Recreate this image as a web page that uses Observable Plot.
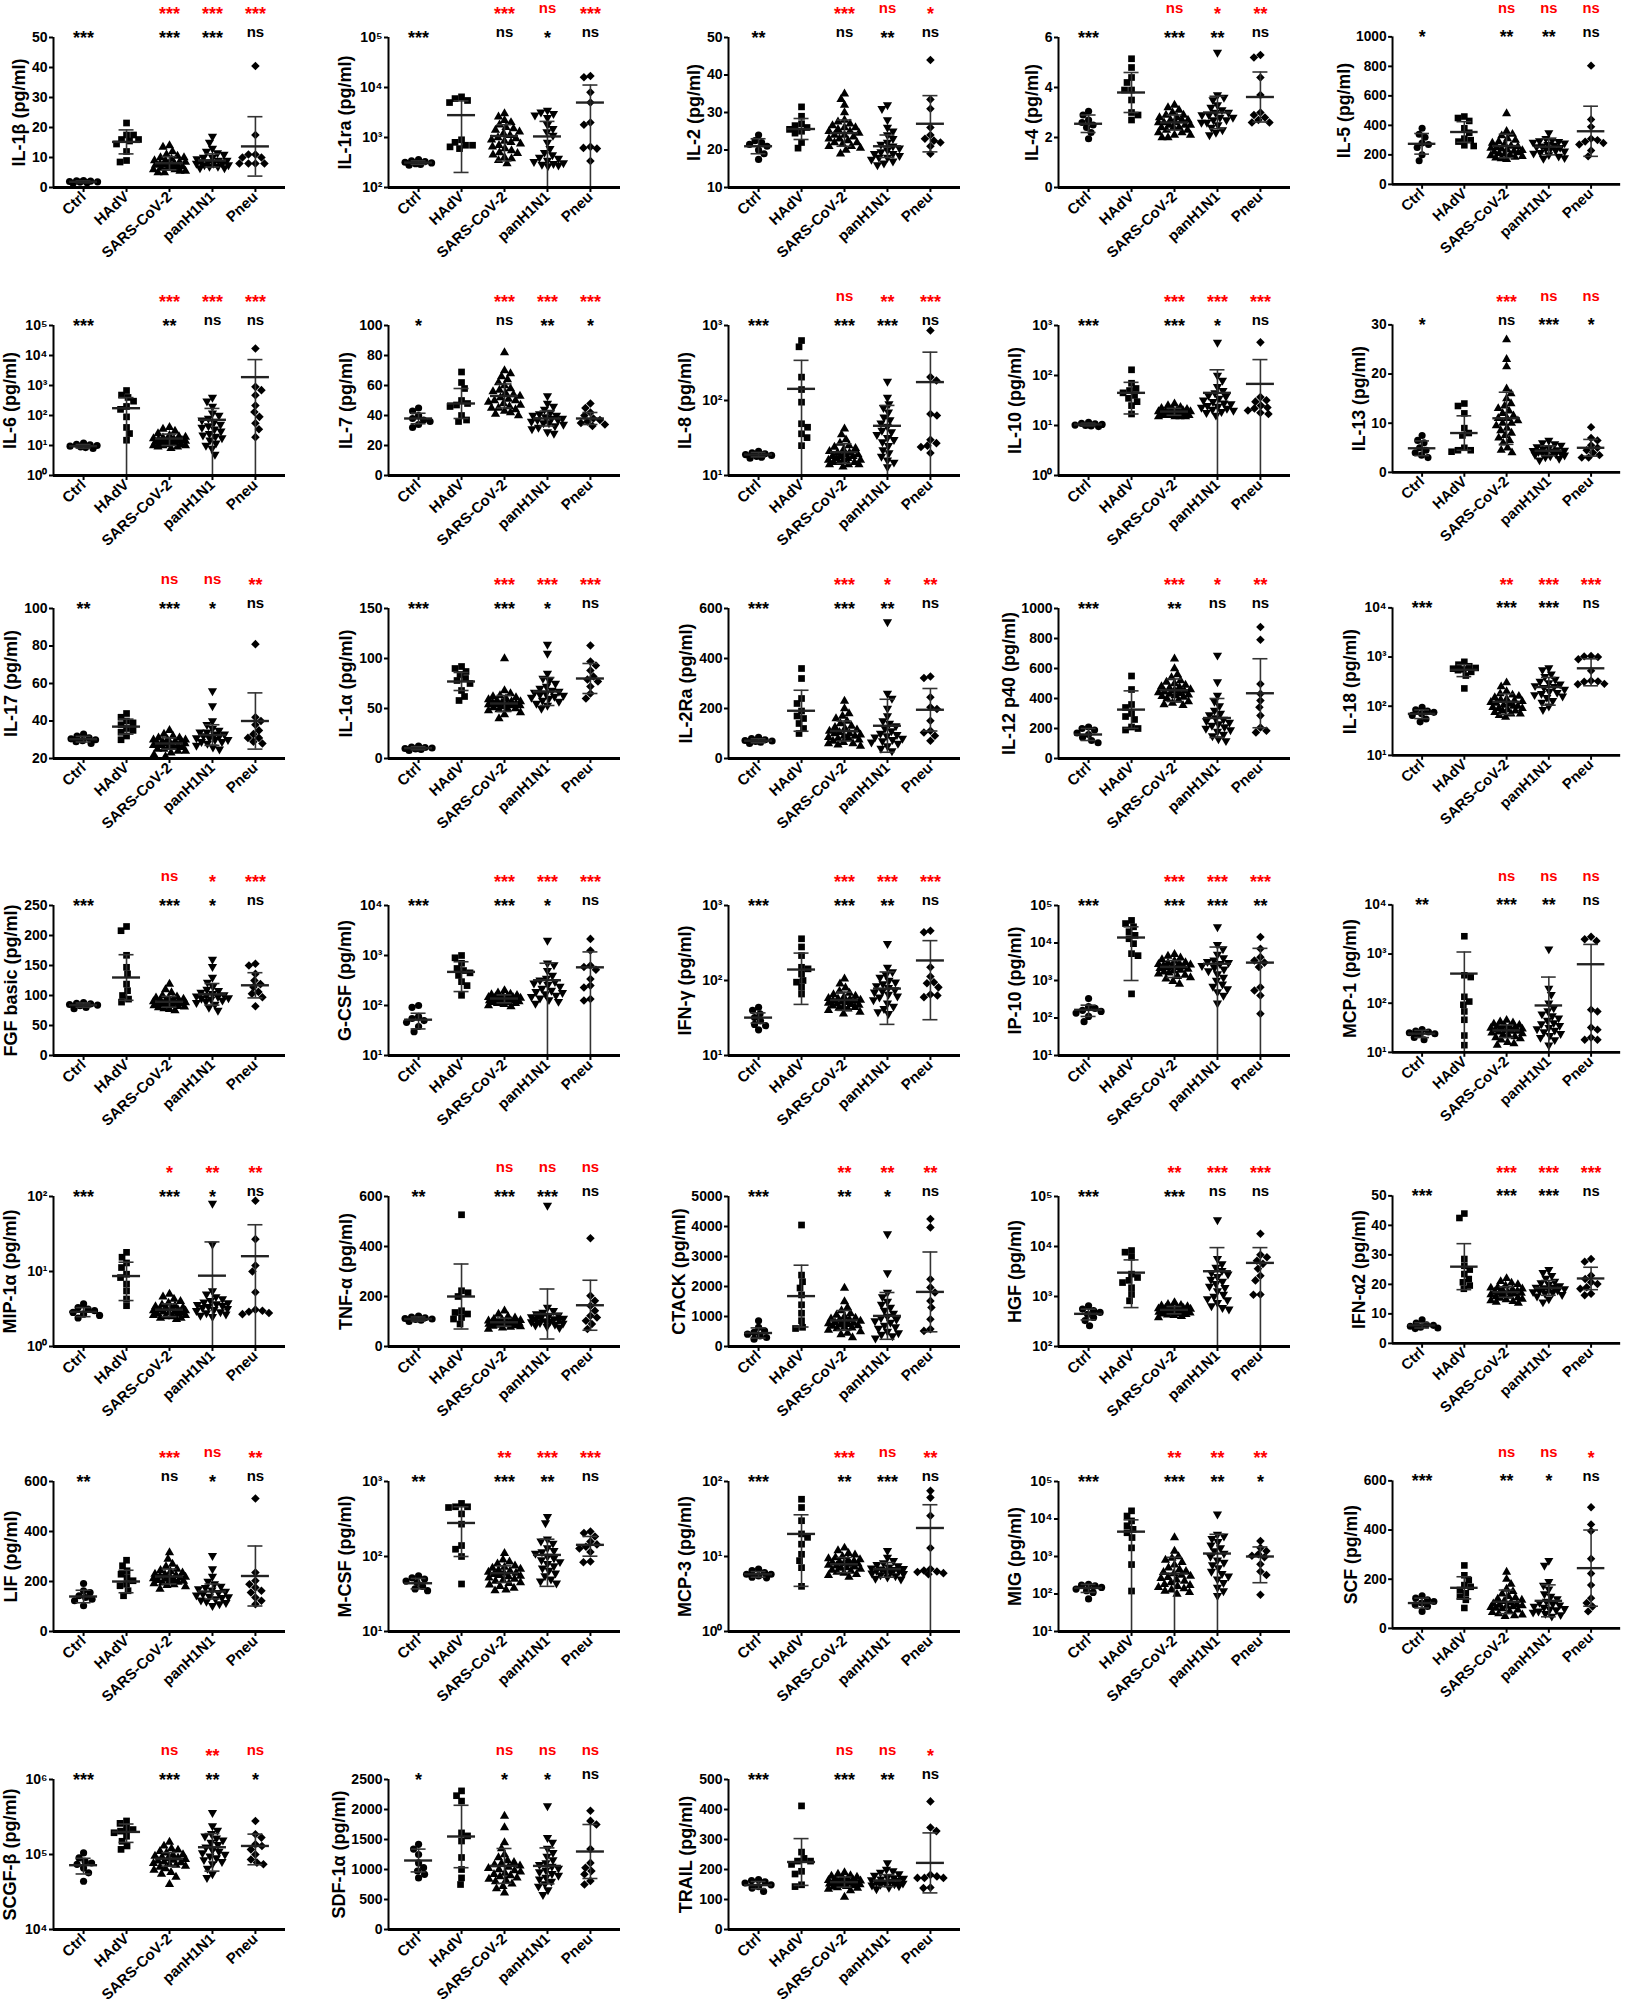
<!DOCTYPE html>
<html><head><meta charset="utf-8">
<script src="https://cdn.jsdelivr.net/npm/d3@7"></script>
<script src="https://cdn.jsdelivr.net/npm/@observablehq/plot@0.6"></script>
<style>
body{margin:0;background:#fff;}
#wrap{position:relative;width:1630px;height:2007px;overflow:hidden;background:#fff;}
.panel{position:absolute;}
</style>
</head><body><div id="wrap"></div>
<script>
const groups = ["Ctrl","HAdV","SARS-CoV-2","panH1N1","Pneu"];
const cytokines = ["IL-1β","IL-1ra","IL-2","IL-4","IL-5","IL-6","IL-7","IL-8","IL-10","IL-13","IL-17","IL-1α","IL-2Ra","IL-12 p40","IL-18","FGF basic","G-CSF","IFN-γ","IP-10","MCP-1","MIP-1α","TNF-α","CTACK","HGF","IFN-α2","LIF","M-CSF","MCP-3","MIG","SCF","SCGF-β","SDF-1α","TRAIL"];
const logPanels = [1,5,7,8,14,16,17,18,19,20,23,26,27,28,30];
const yTicks = [
[0,10,20,30,40,50],[100,1000,10000,100000],[10,20,30,40,50],[0,2,4,6],[0,200,400,600,800,1000],
[1,10,100,1000,10000,100000],[0,20,40,60,80,100],[10,100,1000],[1,10,100,1000],[0,10,20,30],
[20,40,60,80,100],[0,50,100,150],[0,200,400,600],[0,200,400,600,800,1000],[10,100,1000,10000],
[0,50,100,150,200,250],[10,100,1000,10000],[10,100,1000],[10,100,1000,10000,100000],[10,100,1000,10000],
[1,10,100],[0,200,400,600],[0,1000,2000,3000,4000,5000],[100,1000,10000,100000],[0,10,20,30,40,50],
[0,200,400,600],[10,100,1000],[1,10,100],[10,100,1000,10000,100000],[0,200,400,600],
[10000,100000,1000000],[0,500,1000,1500,2000,2500],[0,100,200,300,400,500]
];
const ctrl = [
[1.8,2.0,2.2,1.6,1.9,2.1,1.4,2.3],[300,320,340,310,290,330,280,360],[24,22.5,22,21.5,21,20,19,17.5],[3.05,2.9,2.7,2.6,2.5,2.4,2.2,1.95],[380,340,320,280,270,250,200,160],
[12,11,10.5,10,9.5,9,8.5,8],[45,43,40,38,37,36,34,32],[21,20,19.5,19,18.5,18,17.5,17],[11.5,11,10.8,10.5,10.2,10,9.8,9.5],[7.5,6.5,6,5,4.5,4,3.5,3],
[33,32,31,30.5,30,29.5,29,28],[12.5,11.5,11,10.5,10,9.5,9,8],[85,80,75,72,70,68,65,60],[210,200,190,170,160,140,120,105],[95,85,80,75,70,65,55,48],
[88,87,86,85,84,83,80,78],[100,92,60,55,50,46,38,30],[44,40,36,32,29,26,25,22],[330,200,180,160,150,135,110,80],[29,27,26,25,24,23,20,18],
[3.7,3.3,3.15,3.0,2.85,2.7,2.6,2.4],[122,118,115,112,110,108,105,100],[857,635,523,468,412,356,300,245],[650,560,520,480,440,380,330,260],[8,6.9,6.3,6.1,5.8,5.5,5.2,5.0],
[192,163,156,143,136,129,123,103],[55,52,50,47,45,40,37,35],[6.8,6.5,6.1,5.8,5.8,5.5,5.3,5.2],[180,172,165,150,135,122,110,74],[133,123,116,109,103,96,89,69],
[105000,90000,81000,77000,74000,66000,57000,44000],[1420,1340,1250,1110,1030,975,920,860],[166,163,159,155,149,143,138,127]
];
const hadv = [
[21.5,17.5,17.5,16,15.5,16,14.5,12,8.5,9],[6500,6000,5500,5000,900,800,700,650,600,700],[31.5,29,27,26.5,26,25.5,25,24.5,22,20.5],[5.15,4.8,4.4,4.2,3.9,3.9,3.5,3.0,2.9,2.7],[460,450,430,380,350,310,300,290,265,260],
[680,480,400,300,200,160,90,40,25,15],[69,62,58,50,48,47,46,40,37,36],[630,520,205,140,95,49,44,36,32,25],[130,70,55,50,45,40,35,30,25,17],[14,13.5,12,9,8,7.5,5,4.5,4.5,4.2],
[44,42,40,39,38,36,35,34,32,30],[92,90,87,84,80,78,75,68,62,58],[360,320,240,220,190,170,160,140,120,100],[550,460,360,340,300,280,260,210,200,190],[800,700,650,600,580,560,540,500,420,230],
[215,208,167,147,136,119,108,100,94,89],[1000,900,700,550,500,450,400,300,250,160],[360,280,215,150,143,122,100,95,81,66],[40000,33000,27000,20000,16000,13000,9600,5200,4600,440],[2300,370,340,135,108,93,68,46,22,14],
[18,15.5,13,11.3,9.2,8.3,6.8,5.5,4.3,3.5],[527,223,215,200,143,136,130,116,110,90],[4050,2380,2160,1950,1720,1390,1110,860,640,600],[8300,7700,6100,2800,2400,2100,1900,1500,1100,820],[44,42.5,28.6,26.3,25,23.5,21.8,20.7,19.6,18.5],
[285,263,243,229,216,203,189,183,163,143],[510,460,450,370,270,140,125,100,43,460],[58,45,30,20,18,14.6,10.7,8.8,7.1,4],[16500,12000,8900,6600,5300,4300,3200,1700,610,120],[256,216,196,176,169,156,143,129,116,83],
[280000,260000,228000,215000,205000,195000,175000,150000,130000,117000],[2310,2230,2140,1610,1560,1475,1200,1000,860,750],[412,258,237,228,228,217,194,185,149,143]
];
const sars = [
[14,13.5,12,11,10.5,10,10,9.5,9,9,8.5,8.5,8,8,8,7.5,7.5,7,7,7,6.5,6.5,6,6,5.5,5.5,5,5],
[3000,2600,2200,2000,1800,1600,1500,1400,1300,1200,1100,1000,950,900,850,800,750,700,650,600,550,500,480,450,400,380,350,300],
[35,33.5,32,30,28,27.5,27,26.5,26,26,25.5,25,25,24.5,24,24,23.5,23,23,22.5,22,22,21.5,21,21,20.5,20,19],
[3.3,3.2,3.1,3.0,2.9,2.9,2.8,2.8,2.7,2.7,2.7,2.6,2.6,2.6,2.5,2.5,2.5,2.4,2.4,2.4,2.3,2.3,2.2,2.2,2.1,2.1,2.0,2.0],
[480,360,340,330,310,300,290,280,270,260,255,250,245,240,235,230,225,220,215,210,205,200,195,190,185,180,175,170],
[40,35,30,25,22,20,19,18,17,16,16,15,15,14,14,13,13,12,12,12,11,11,10,10,10,9,9,8],
[82,70,68,66,64,62,60,58,57,56,55,54,53,52,51,50,50,49,48,47,46,45,45,44,43,42,41,40],
[42,35,30,27,25,24,23,22,21,20,20,19,19,18,18,18,17,17,16,16,16,15,15,15,14,14,14,13],
[27,25,23,22,21,21,20,20,20,19,19,19,18,18,18,18,17,17,17,17,16,16,16,16,15,15,15,15],
[27,23,21.5,17,16,15,14,13.5,13,12.5,12,11.5,11,11,10.5,10,10,9.5,9,8.5,8,7.5,7,6.5,6,5,4.5,4],
[35,33,32,31,31,30,30,30,29,29,29,28,28,28,28,27,27,27,26,26,26,25,25,24,24,23,22,21],
[100,68,65,63,62,61,60,59,58,57,57,56,56,55,55,54,54,53,53,52,51,50,50,49,48,46,44,40],
[230,200,180,170,160,150,140,130,125,120,115,110,105,100,100,95,90,90,85,80,80,75,70,65,60,60,55,50],
[665,600,560,540,520,510,500,490,480,475,470,460,455,450,445,440,435,430,425,420,415,410,400,390,380,370,360,355],
[300,250,200,180,170,160,150,140,135,130,125,120,115,110,105,100,100,95,90,90,85,80,80,75,70,70,65,60],
[119,110,105,100,98,96,95,94,93,92,91,90,90,89,88,88,87,86,85,84,84,83,82,81,80,78,77,75],
[200,180,170,165,160,155,150,150,145,145,140,140,140,135,135,130,130,125,125,120,120,115,115,110,110,105,100,95],
[105,90,80,72,68,65,62,60,58,57,56,55,54,53,52,51,50,49,48,47,46,45,44,43,42,40,38,36],
[5000,4500,4000,3600,3300,3000,2900,2800,2700,2600,2500,2400,2300,2250,2200,2100,2000,1900,1800,1700,1600,1500,1400,1300,1200,1100,950,800],
[45,42,40,38,36,35,34,33,32,31,30,30,29,28,27,27,26,25,24,23,22,21,20,19,18,16,15,14],
[5,4.6,4.3,4,3.8,3.6,3.5,3.4,3.3,3.2,3.2,3.1,3.1,3,3,2.9,2.9,2.8,2.8,2.7,2.7,2.6,2.6,2.5,2.5,2.4,2.4,2.3],
[143,130,120,115,110,108,105,103,102,100,99,98,97,96,95,94,93,92,91,90,88,86,84,82,80,78,75,70],
[1950,1500,1300,1200,1100,1050,1000,950,920,900,880,850,820,800,780,760,740,720,700,680,650,620,600,550,500,450,400,300],
[760,700,670,650,630,610,600,590,580,570,560,550,545,540,530,520,510,500,490,480,470,460,450,440,430,420,400,380],
[22,21,20.5,20,19.5,19,18.8,18.5,18.3,18,17.8,17.5,17.3,17,17,16.8,16.5,16.3,16,15.8,15.5,15.3,15,14.8,14.5,14.2,14,13.6],
[316,290,270,260,250,245,240,235,230,228,225,222,220,218,215,212,210,208,205,202,200,198,195,192,188,185,180,170],
[110,90,85,80,75,72,70,68,66,64,62,60,60,58,56,55,54,52,50,48,47,45,44,42,40,38,36,35],
[13,12,11,10.5,10,9.7,9.4,9.1,8.9,8.7,8.5,8.3,8.1,8,7.9,7.7,7.5,7.3,7.1,7,6.8,6.6,6.4,6.2,6,5.8,5.6,5.3],
[3200,1400,1000,900,800,700,600,500,450,400,380,350,320,300,280,260,240,220,200,180,170,160,150,140,130,120,110,100],
[229,200,180,160,150,140,130,125,120,115,110,105,100,98,95,92,90,88,85,82,80,75,70,65,60,55,52,49],
[146000,130000,120000,115000,110000,105000,100000,98000,95000,92000,90000,88000,86000,84000,82000,80000,78000,76000,74000,72000,70000,68000,65000,62000,58000,55000,50000,40000],
[1890,1700,1450,1350,1250,1200,1150,1120,1100,1080,1060,1040,1020,1000,980,960,940,920,900,880,860,840,820,800,760,720,680,610],
[190,185,180,178,175,172,170,168,166,164,162,160,158,157,156,155,154,152,150,148,146,144,142,140,138,135,130,108]
];
const h1n1 = [
[17,15,13,12,11.5,11,10,10,9.5,9,9,8.5,8.5,8,8,8,7.5,7.5,7,7,6.5,6.5],
[3500,3200,3000,2800,2500,1800,1500,1300,1100,800,600,500,450,400,380,350,330,310,300,290,280,270],
[32,31,28,26,25,24,23,22,21.5,21,20.5,20,19.5,19,19,18.5,18,18,17.5,17,16.5,16],
[5.4,3.7,3.6,3.5,3.3,3.2,3.1,3.0,3.0,2.9,2.9,2.8,2.8,2.7,2.7,2.6,2.6,2.5,2.4,2.3,2.2,2.1],
[350,310,300,295,290,285,280,270,265,260,255,250,245,240,230,225,215,210,200,190,180,175],
[400,300,200,120,100,80,70,60,50,45,40,35,30,25,22,20,18,15,12,10,8,5],
[53,48,46,44,42,41,40,40,39,38,38,37,37,36,35,35,34,33,32,31,29,28],
[180,110,90,80,70,60,55,50,45,40,38,35,32,30,28,25,22,20,18,16,15,13],
[460,100,80,60,50,45,40,38,35,32,30,28,27,25,24,23,22,21,20,19,18,16],
[6.5,6,5.8,5.5,5.2,5,4.8,4.6,4.5,4.4,4.3,4.2,4.1,4,3.9,3.8,3.6,3.5,3.3,3.1,2.8,2.5],
[56,48,40,38,36,35,34,34,33,33,32,32,31,31,30,30,29,29,28,27,26,25],
[114,105,85,80,78,75,72,70,68,67,66,65,64,63,62,61,60,58,57,55,53,50],
[546,260,240,200,170,150,140,130,120,110,100,95,90,85,80,75,70,65,60,50,40,30],
[688,510,420,380,350,320,300,290,270,260,250,240,230,220,210,200,190,180,160,150,130,118],
[600,550,450,400,350,320,300,280,260,250,240,220,200,190,180,170,160,150,130,120,100,85],
[160,148,130,122,115,110,108,105,103,101,100,99,98,96,95,94,92,90,88,85,80,75],
[2000,700,650,500,400,350,320,300,280,260,240,220,200,190,180,170,160,150,140,130,120,110],
[310,150,130,120,110,100,95,90,85,80,75,72,70,65,62,60,55,50,45,42,38,36],
[27000,9000,7000,5000,4000,3500,3200,3000,2800,2500,2200,2000,1800,1500,1200,1000,800,700,600,500,400,250],
[1260,200,150,100,80,70,60,55,50,45,40,38,35,32,30,28,26,24,22,20,18,14],
[81,23,5.5,5,4.6,4.3,4.1,3.9,3.8,3.7,3.6,3.5,3.4,3.3,3.2,3.1,3,2.9,2.8,2.7,2.6,2.5],
[564,156,143,136,130,125,120,118,115,112,110,108,105,102,100,98,95,92,88,85,80,75],
[3750,2450,1800,1650,1500,1400,1300,1200,1100,1000,950,900,850,800,700,650,600,500,450,400,350,280],
[34000,5700,4500,3800,3300,3000,2800,2500,2200,2000,1800,1600,1500,1300,1100,1000,900,850,750,650,600,560],
[25,24,23,22,21,20.5,20,19.5,19,19,18.8,18.5,18.3,18,17.8,17.5,17.2,17,16.5,16,15,14],
[303,250,220,200,190,180,175,170,165,160,155,150,145,140,138,135,130,125,120,115,110,103],
[340,280,170,160,150,130,120,115,110,100,95,90,85,80,75,70,65,60,55,50,47,44],
[12,9.7,8.8,8.2,7.8,7.5,7.2,7,6.9,6.8,6.7,6.5,6.4,6.3,6.2,6,5.9,5.7,5.5,5.3,5.1,5],
[13500,3900,3500,3000,2500,2000,1700,1400,1200,1000,800,700,600,500,400,350,300,250,200,150,120,90],
[276,256,190,175,160,140,130,120,110,105,100,95,90,85,80,78,75,70,65,60,55,49],
[360000,240000,210000,190000,175000,165000,155000,145000,135000,125000,115000,110000,105000,100000,95000,90000,85000,80000,75000,65000,55000,49000],
[2060,1530,1450,1350,1280,1220,1160,1110,1080,1050,1020,990,960,930,900,870,840,800,760,720,660,580],
[222,200,195,190,185,180,175,172,170,168,165,163,160,158,156,154,152,150,148,145,140,135]
];
const pneu = [
[40.5,17.5,11,11,10,10,8,8,8,8],[17000,16000,8000,5000,2000,1800,650,600,620,340],[44,33.5,31,26,24,23,22.5,22,21,19],[5.3,5.2,4.4,3.7,3.0,2.9,2.8,2.7,2.6,2.6],[805,440,390,310,300,290,280,270,230,190],
[17000,900,700,470,215,130,90,55,35,19],[48,45,42,40,38,37,36,35,34,33],[860,205,185,66,63,30,27,25,24,20],[460,37,32,30,25,23,22,20,18,17],[9.2,7,6.5,5.5,5,4.5,4,3.5,3,3],
[81,42,40,38,35,33,31,31,29,28],[113,97,93,88,82,79,77,72,65,60],[328,322,245,205,198,151,111,104,91,71],[877,792,497,431,386,342,286,207,185,174],[1050,1030,1000,900,525,330,320,315,285,280],
[153,150,136,125,119,114,106,103,97,82],[2150,1260,630,590,520,340,250,230,135,126],[460,440,150,113,95,92,81,65,63,60],[14500,7000,4200,3400,3000,2300,660,540,400,130],[2250,2000,1850,74,68,32,29,20,18,18],
[88,27,12,10,5.3,3.1,3.0,2.9,2.8,2.7],[433,203,183,163,143,123,116,103,90,70],[4250,3970,2240,1970,1800,1520,1300,910,580,520],[18000,6800,6100,5200,4500,3600,2600,2100,1100,1080],[28.6,27.7,23,21.8,20.7,20.1,19,18.5,16.8,16.3],
[532,236,203,189,176,163,156,136,123,109],[215,205,185,158,145,135,128,115,86,84],[75,61,35,13,6.8,6.5,6.3,6.2,6,5.8],[2600,1700,1400,1150,1050,950,620,400,320,95],[493,423,396,283,223,176,123,103,89,69],
[280000,186000,168000,137000,130000,117000,100000,86000,78000,74000],[1980,1810,1750,1340,1110,1030,975,920,810,750],[427,340,328,182,177,172,172,172,140,138]
];
const means = [
[1.9,15.2,8.1,9,13.7],[315,2800,1070,1050,5000],[21,25.6,24.5,21,27],[2.55,3.8,2.6,3.0,3.62],[275,355,260,255,360],
[9.5,175,17,72,1900],[38,48,53,38,38],[19,143,20.5,46,176],[10.5,45,19,45,68],[4.9,8,11,4.4,5],
[30.3,37,28,32.5,40],[10.3,77,55,67,80],[71,191,110,131,195],[160,326,455,270,435],[70,550,123,245,590],
[84,130,89.5,102,117],[52,470,138,320,580],[32,140,55,78,185],[165,14000,2300,2800,3000],[24,400,28,90,620],
[2.9,8.7,3.1,8.8,16],[110,200,97,130,165],[450,1680,870,1020,1820],[450,3000,540,3200,4700],[6.1,26,17.4,18.8,22],
[140,200,220,160,222],[44,280,60,105,143],[5.8,20,7.9,6.8,24],[145,4600,350,1200,1000],[103,165,108,112,245],
[72000,200000,88000,125000,130000],[1150,1550,1060,1060,1300],[148,225,158,163,222]
];
const sds = [
[0.3,4,2.2,2.2,9.9],[25,2600,730,1050,6200],[2,2.8,3.5,3,7.5],[0.35,0.8,0.3,0.65,1.0],[70,70,80,55,170],
[1.3,220,7,100,5400],[3.5,10,8,5,4],[1.3,200,6,40,265],[0.6,28,3,85,140],[1.5,3.5,5.3,1,1.7],
[1.5,4,3,5.5,15],[1.5,9,8,14,15],[8,82,40,106,85],[40,125,75,130,230],[14,150,55,140,330],
[3.5,38,9,18,21],[18,280,25,380,600],[5,92,15,52,155],[55,13000,1100,5000,4200],[4,700,8,250,950],
[0.4,4.6,0.6,16,26],[8,130,16,100,100],[170,1030,330,780,1330],[110,2400,90,6300,4800],[0.9,7.8,1.8,2.5,3.8],
[25,45,30,30,120],[7,180,15,65,42],[0.5,16,1.8,1.5,25],[35,4900,600,2700,800],[20,45,48,65,155],
[17000,55000,18000,65000,57000],[190,520,290,300,450],[12,78,17,20,100]
];
const sigBlack = [
["***","***","***","ns"],["***","ns","*","ns"],["**","ns","**","ns"],["***","***","**","ns"],["*","**","**","ns"],
["***","**","ns","ns"],["*","ns","**","*"],["***","***","***","ns"],["***","***","*","ns"],["*","ns","***","*"],
["**","***","*","ns"],["***","***","*","ns"],["***","***","**","ns"],["***","**","ns","ns"],["***","***","***","ns"],
["***","***","*","ns"],["***","***","*","ns"],["***","***","**","ns"],["***","***","***","**"],["**","***","**","ns"],
["***","***","*","ns"],["**","***","***","ns"],["***","**","*","ns"],["***","***","ns","ns"],["***","***","***","ns"],
["**","ns","*","ns"],["**","***","**","ns"],["***","**","***","ns"],["***","***","**","*"],["***","**","*","ns"],
["***","***","**","*"],["*","*","*","ns"],["***","***","**","ns"]
];
const sigRed = [
["***","***","***"],["***","ns","***"],["***","ns","*"],["ns","*","**"],["ns","ns","ns"],
["***","***","***"],["***","***","***"],["ns","**","***"],["***","***","***"],["***","ns","ns"],
["ns","ns","**"],["***","***","***"],["***","*","**"],["***","*","**"],["**","***","***"],
["ns","*","***"],["***","***","***"],["***","***","***"],["***","***","***"],["ns","ns","ns"],
["*","**","**"],["ns","ns","ns"],["**","**","**"],["**","***","***"],["***","***","***"],
["***","ns","**"],["**","***","***"],["***","ns","**"],["**","**","**"],["ns","ns","*"],
["ns","**","ns"],["ns","ns","ns"],["ns","ns","*"]
];

// ---------- layout ----------
const rowTops = [37, 325, 608, 905, 1196, 1481, 1779];
const colAxes = [53, 388, 728, 1058, 1393];
const W = 300, ML = 58, MR = 10, MT = 37, PH = 150, MB = 100, H = MT + PH + MB;
const xDom = [-0.7, 4.7];
const pxPerUnit = (W - ML - MR) / (xDom[1] - xDom[0]);
const R = 3.6;
const RED = "#ff0000";
const FONT = "'Liberation Sans', Arial, Helvetica, sans-serif";
const STAR_FS = 18, NS_FS = 15;

const symSquare = {draw(c, s){ const a = Math.sqrt(s) * 1.05; c.rect(-a/2, -a/2, a, a); }};
const symTriUp = {draw(c, s){ const a = Math.sqrt(s*4/Math.sqrt(3))*0.95, h = a*Math.sqrt(3)/2; c.moveTo(0,-2*h/3); c.lineTo(a/2,h/3); c.lineTo(-a/2,h/3); c.closePath(); }};
const symTriDown = {draw(c, s){ const a = Math.sqrt(s*4/Math.sqrt(3))*0.95, h = a*Math.sqrt(3)/2; c.moveTo(0,2*h/3); c.lineTo(a/2,-h/3); c.lineTo(-a/2,-h/3); c.closePath(); }};
const symDiamond = {draw(c, s){ const a = Math.sqrt(s/2)*0.95; c.moveTo(0,-a); c.lineTo(a,0); c.lineTo(0,a); c.lineTo(-a,0); c.closePath(); }};
const symbols = [d3.symbolCircle, symSquare, symTriUp, symTriDown, symDiamond];

const supMap = {"0":"⁰","1":"¹","2":"²","3":"³","4":"⁴","5":"⁵","6":"⁶","7":"⁷","8":"⁸","9":"⁹","-":"⁻"};
const fmtLog = d => "10" + String(Math.round(Math.log10(d))).split("").map(c => supMap[c]).join("");

function swarm(yp) {
  const n = yp.length;
  const order = d3.range(n).sort((a, b) => yp[a] - yp[b]);
  const D = 2 * R * 0.92, maxW = 16, step = 0.5;
  const placed = [], off = new Array(n);
  order.forEach((i, k) => {
    const y = yp[i];
    const near = placed.filter(p => Math.abs(p.y - y) < D);
    let best = null, fb = 0, fbScore = -Infinity;
    const sign = k % 2 ? -1 : 1;
    for (let t = 0; t <= maxW && best === null; t += step) {
      for (const c of (t === 0 ? [0] : [sign * t, -sign * t])) {
        let md = Infinity;
        for (const p of near) md = Math.min(md, Math.hypot(p.x - c, p.y - y));
        if (md >= D) { best = c; break; }
        if (md > fbScore) { fbScore = md; fb = c; }
      }
    }
    if (best === null) best = fb;
    placed.push({x: best, y});
    off[i] = best;
  });
  return off;
}

// centre (px above the frame top) of each significance row
const BLACK_C = 4, RED_C = 28;

const wrap = document.getElementById("wrap");
cytokines.forEach((name, i) => {
  const row = Math.floor(i / 5), col = i % 5;
  const isLog = logPanels.includes(i);
  const ticks = yTicks[i];
  const dom = [ticks[0], ticks[ticks.length - 1]];
  const ys = (isLog ? d3.scaleLog() : d3.scaleLinear()).domain(dom).range([PH, 0]);
  const series = [ctrl[i], hadv[i], sars[i], h1n1[i], pneu[i]];
  const pts = [];
  series.forEach((vals, gi) => {
    const off = swarm(vals.map(v => ys(v)));
    vals.forEach((v, j) => pts.push({gi, v, x: gi + off[j] / pxPerUnit}));
  });
  const stats = [], caps = [];
  means[i].forEach((m, gi) => {
    const s = sds[i][gi];
    let lo = m - s, hi = m + s;
    const loClip = lo <= dom[0], hiClip = hi >= dom[1];
    if (loClip) lo = dom[0];
    if (hiClip) hi = dom[1];
    stats.push({gi, m, lo, hi, x1: gi - 14 / pxPerUnit, x2: gi + 14 / pxPerUnit});
    if (!loClip) caps.push({y: lo, x1: gi - 7.5 / pxPerUnit, x2: gi + 7.5 / pxPerUnit});
    if (!hiClip) caps.push({y: hi, x1: gi - 7.5 / pxPerUnit, x2: gi + 7.5 / pxPerUnit});
  });
  const blk = sigBlack[i].map((t, k) => ({gi: [0, 2, 3, 4][k], t}));
  const red = sigRed[i].map((t, k) => ({gi: [2, 3, 4][k], t}));
  const tickFmt = isLog ? fmtLog : (d => String(d));
  const maxLen = isLog ? 3.2 : d3.max(ticks, d => String(d).length);
  const labDx = -(6 + 7.6 * maxLen + 13);

  // baseline offsets: asterisks sit ~0.58em above baseline, "ns" x-height centre ~0.26em
  const sigMarks = (data, fill, c) => [
    Plot.text(data.filter(d => d.t !== "ns"), {x: "gi", text: "t", frameAnchor: "top", textAnchor: "middle", lineAnchor: "bottom", dy: -c + 0.58 * STAR_FS, fontSize: STAR_FS, fontWeight: "bold", fill}),
    Plot.text(data.filter(d => d.t === "ns"), {x: "gi", text: "t", frameAnchor: "top", textAnchor: "middle", lineAnchor: "bottom", dy: -c + 0.26 * NS_FS, fontSize: NS_FS, fontWeight: "bold", fill})
  ];

  const chart = Plot.plot({
    width: W, height: H,
    marginLeft: ML, marginRight: MR, marginTop: MT, marginBottom: MB,
    style: {fontFamily: FONT, fontSize: "14px", overflow: "visible", background: "transparent", color: "#000"},
    x: {type: "linear", domain: xDom},
    y: {type: isLog ? "log" : "linear", domain: dom},
    marks: [
      Plot.axisY({ticks, tickFormat: tickFmt, tickSize: 4, tickPadding: 2, fontSize: 14, fontWeight: "bold", strokeWidth: 2, label: null}),
      Plot.axisX({ticks: [0, 1, 2, 3, 4], tickFormat: d => groups[d], tickRotate: -43, tickSize: 5, tickPadding: 2, fontSize: 15, fontWeight: "bold", strokeWidth: 2, textAnchor: "end", label: null}),
      ...series.map((_, gi) => Plot.dot(pts.filter(d => d.gi === gi), {x: "x", y: "v", r: R, symbol: symbols[gi], fill: "#000", stroke: "none"})),
      Plot.ruleX(stats, {x: "gi", y1: "lo", y2: "hi", stroke: "#333", strokeWidth: 1.6}),
      Plot.ruleY(caps, {y: "y", x1: "x1", x2: "x2", stroke: "#333", strokeWidth: 1.6}),
      Plot.ruleY(stats, {y: "m", x1: "x1", x2: "x2", stroke: "#222", strokeWidth: 2.4}),
      Plot.ruleX([xDom[0]], {stroke: "#000", strokeWidth: 2}),
      Plot.ruleY([dom[0]], {stroke: "#000", strokeWidth: 3}),
      Plot.text([name + " (pg/ml)"], {text: d => d, frameAnchor: "left", textAnchor: "middle", lineAnchor: "middle", dx: labDx, rotate: -90, fontSize: 18, fontWeight: "bold", fill: "#000"}),
      ...sigMarks(blk, "#000", BLACK_C),
      ...sigMarks(red, RED, RED_C)
    ]
  });
  const div = document.createElement("div");
  div.className = "panel";
  div.style.left = (colAxes[col] - ML) + "px";
  div.style.top = (rowTops[row] - MT) + "px";
  div.appendChild(chart);
  wrap.appendChild(div);
});
</script>
</body></html>
